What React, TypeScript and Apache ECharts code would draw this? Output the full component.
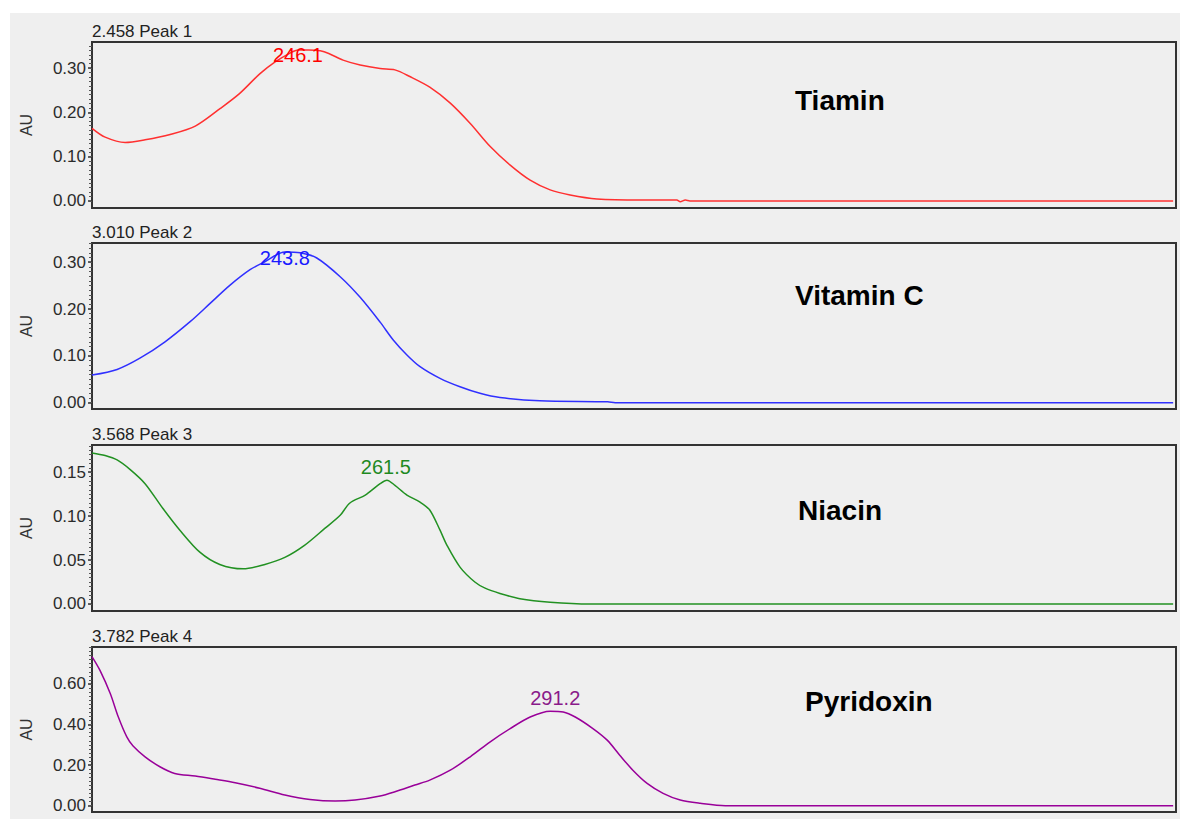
import React, { useEffect, useRef } from "react";
import * as echarts from "echarts";

// Wavelength range (nm) of every spectrum panel
const WAVE_MIN = 210;
const WAVE_MAX = 400;

// Spectra: [wavelength nm, absorbance AU]
const tiaminData: [number, number][] = [
  [210.0, 0.164], [212.3, 0.144], [215.8, 0.132], [219.3, 0.138], [223.7, 0.15], [228.1, 0.169],
  [232.5, 0.209], [235.9, 0.243], [239.4, 0.287], [242.1, 0.314], [244.7, 0.334], [246.1, 0.341],
  [248.0, 0.341], [250.0, 0.339], [251.5, 0.333], [254.0, 0.318], [257.0, 0.307], [260.5, 0.299],
  [263.1, 0.296], [265.7, 0.281], [269.2, 0.257], [272.8, 0.221], [276.3, 0.175], [279.8, 0.123],
  [283.3, 0.081], [286.8, 0.047], [290.3, 0.025], [293.8, 0.0135], [298.5, 0.0045], [306.1, 0.002],
  [312.5, 0.002], [313.1, -0.002], [314.0, 0.002], [314.8, 0.0], [330.0, 0.0], [360.0, 0.0], [399.5, 0.0],
];

const vitaminCData: [number, number][] = [
  [210.0, 0.059], [214.4, 0.071], [218.4, 0.095], [222.8, 0.13], [227.2, 0.173], [230.7, 0.212],
  [234.2, 0.251], [237.7, 0.284], [240.3, 0.301], [243.8, 0.322], [246.5, 0.32], [249.4, 0.309],
  [253.5, 0.269], [257.0, 0.225], [260.5, 0.172], [262.8, 0.134], [265.2, 0.102], [267.5, 0.077],
  [271.0, 0.052], [274.5, 0.034], [278.0, 0.02], [281.5, 0.011], [288.5, 0.004], [300.4, 0.002],
  [301.7, 0.0], [350.0, 0.0], [399.5, 0.0],
];

const niacinData: [number, number][] = [
  [210.0, 0.172], [212.3, 0.169], [214.4, 0.164], [216.7, 0.153], [219.3, 0.137], [222.4, 0.109],
  [225.4, 0.084], [228.9, 0.059], [232.4, 0.045], [236.5, 0.04], [240.3, 0.045], [243.8, 0.053],
  [247.3, 0.067], [250.8, 0.086], [253.5, 0.101], [255.2, 0.115], [257.9, 0.124], [260.5, 0.137],
  [261.7, 0.141], [263.1, 0.135], [265.2, 0.124], [267.5, 0.116], [269.2, 0.107], [271.0, 0.084],
  [272.2, 0.067], [274.5, 0.042], [277.1, 0.025], [278.9, 0.018], [281.5, 0.012], [285.0, 0.006],
  [290.3, 0.002], [297.3, 0.0], [350.0, 0.0], [399.5, 0.0],
];

const pyridoxinData: [number, number][] = [
  [210.0, 0.735], [211.4, 0.667], [213.2, 0.553], [214.6, 0.438], [216.1, 0.339], [217.2, 0.294],
  [219.3, 0.241], [221.9, 0.192], [224.5, 0.159], [228.1, 0.146], [231.6, 0.13], [235.1, 0.113],
  [239.4, 0.086], [243.8, 0.053], [248.2, 0.031], [252.6, 0.023], [256.1, 0.028], [260.5, 0.048],
  [263.1, 0.069], [266.6, 0.102], [269.2, 0.126], [272.8, 0.175], [276.3, 0.241], [279.8, 0.315],
  [283.3, 0.38], [286.8, 0.437], [290.3, 0.466], [292.6, 0.462], [294.7, 0.437], [297.8, 0.38],
  [300.3, 0.323], [302.5, 0.249], [304.8, 0.175], [307.3, 0.11], [310.1, 0.061], [313.1, 0.028],
  [316.6, 0.012], [321.0, 0.0], [360.0, 0.0], [399.5, 0.0],
];

// Panel texts
const panelTitles = ["2.458 Peak 1", "3.010 Peak 2", "3.568 Peak 3", "3.782 Peak 4"];
const compoundNames = ["Tiamin", "Vitamin C", "Niacin", "Pyridoxin"];
const peakWavelengths = [246.1, 243.8, 261.5, 291.2];

// Y axis tick labels and ranges
const yTickLabels = [
  [0, 0.1, 0.2, 0.3],
  [0, 0.1, 0.2, 0.3],
  [0, 0.05, 0.1, 0.15],
  [0, 0.2, 0.4, 0.6],
];
const yMinorSteps = [0.01, 0.01, 0.005, 0.02];
const yMins = [-0.016, -0.0135, -0.008, -0.031];
const yMaxs = [0.359, 0.341, 0.181, 0.782];

const spectra = [tiaminData, vitaminCData, niacinData, pyridoxinData];

// Layout / style (not data)
const colors = ["#ff3030", "#3030ff", "#229122", "#990099"];
const labelColors = ["#ff0000", "#1a1aff", "#1f8a1f", "#8a1a8a"];
const labelOffsets = [5, 6, -13, -13];
const gridTops = [29, 230, 432, 634];
const gridHeights = [166, 166, 166, 165];
const namePos = [
  [785, 87],
  [785, 282],
  [788, 497],
  [795, 688],
];
const FONT = "'Liberation Sans', Arial, sans-serif";

export default function App() {
  const ref = useRef<HTMLDivElement>(null);

  useEffect(() => {
    if (!ref.current) return;
    const chart = echarts.init(ref.current, undefined, { renderer: "svg" });

    const grids: any[] = [];
    const xAxes: any[] = [];
    const yAxes: any[] = [];
    const series: any[] = [];
    const graphics: any[] = [];

    spectra.forEach((data, i) => {
      grids.push({
        left: 82,
        right: 4,
        top: gridTops[i],
        height: gridHeights[i],
        show: true,
        backgroundColor: "#efefef",
        borderColor: "#333",
        borderWidth: 2,
      });
      xAxes.push({
        type: "value",
        gridIndex: i,
        min: WAVE_MIN,
        max: WAVE_MAX,
        show: false,
      });
      const minor: number[] = [];
      const step = yMinorSteps[i];
      for (let k = 0; k * step <= yMaxs[i] + 1e-9; k++) {
        minor.push(Number((k * step).toFixed(4)));
      }
      yAxes.push({
        type: "value",
        gridIndex: i,
        position: "left",
        min: yMins[i],
        max: yMaxs[i],
        name: "AU",
        nameLocation: "middle",
        nameRotate: 90,
        nameGap: 58,
        nameTextStyle: { fontFamily: FONT, fontSize: 16, color: "#333" },
        axisLine: { show: true, lineStyle: { color: "#333", width: 2 } },
        axisTick: {
          show: true,
          length: 4,
          customValues: yTickLabels[i],
          lineStyle: { color: "#333", width: 1.5 },
        },
        axisLabel: {
          show: true,
          customValues: yTickLabels[i],
          margin: 6,
          fontFamily: FONT,
          fontSize: 17,
          color: "#2b2b2b",
          formatter: (v: number) => v.toFixed(2),
        },
        splitLine: { show: false },
      });
      yAxes.push({
        type: "value",
        gridIndex: i,
        position: "left",
        min: yMins[i],
        max: yMaxs[i],
        axisLine: { show: false },
        axisLabel: { show: false },
        splitLine: { show: false },
        axisTick: {
          show: true,
          length: 3,
          customValues: minor,
          lineStyle: { color: "#555", width: 1 },
        },
      });
      const pw = peakWavelengths[i];
      const peakVal = Math.max(
        ...data.filter((d) => Math.abs(d[0] - pw) <= 3).map((d) => d[1])
      );
      series.push({
        type: "line",
        xAxisIndex: i,
        yAxisIndex: i * 2,
        data,
        showSymbol: false,
        smooth: 0.3,
        lineStyle: { color: colors[i], width: 1.5 },
        itemStyle: { color: colors[i] },
        markPoint: {
          symbol: "circle",
          symbolSize: 0,
          silent: true,
          data: [
            {
              name: pw.toFixed(1),
              coord: [pw, peakVal],
            },
          ],
          label: {
            show: true,
            position: "inside",
            offset: [0, labelOffsets[i]],
            formatter: "{b}",
            fontFamily: FONT,
            fontSize: 20,
            color: labelColors[i],
          },
        },
      });
      graphics.push({
        type: "text",
        x: 82,
        y: gridTops[i] - 11,
        style: {
          text: panelTitles[i],
          font: `17px ${FONT}`,
          fill: "#222",
          verticalAlign: "middle",
          align: "left",
        },
      });
      graphics.push({
        type: "text",
        x: namePos[i][0],
        y: namePos[i][1],
        style: {
          text: compoundNames[i],
          font: `bold 28px ${FONT}`,
          fill: "#000",
          verticalAlign: "middle",
          align: "left",
        },
      });
    });

    chart.setOption({
      animation: false,
      backgroundColor: "#efefef",
      grid: grids,
      xAxis: xAxes,
      yAxis: yAxes,
      series,
      graphic: graphics,
    });

    return () => chart.dispose();
  }, []);

  return (
    <div
      ref={ref}
      style={{ position: "absolute", left: 10, top: 13, width: 1170, height: 806 }}
    />
  );
}
